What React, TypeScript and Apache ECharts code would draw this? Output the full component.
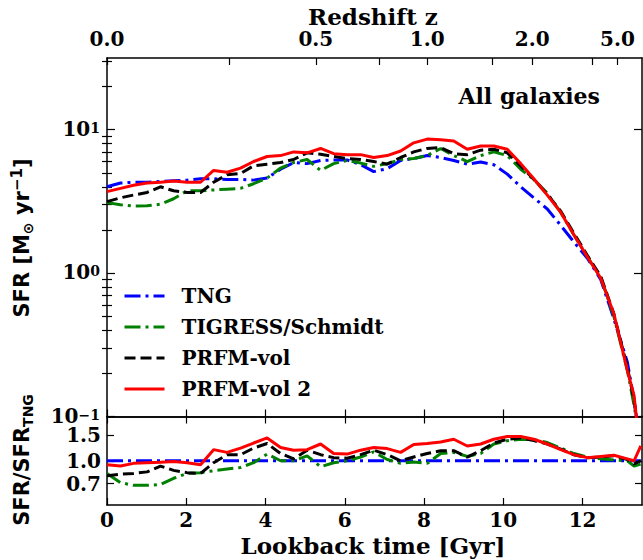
import React, { useEffect, useRef } from 'react';
import * as echarts from 'echarts';

// ---------- data ----------
const lookbackGyr = [0.00, 0.34, 0.67, 1.01, 1.35, 1.68, 2.02, 2.36, 2.69, 3.03, 3.37, 3.70, 4.04, 4.38, 4.71, 5.05, 5.39, 5.72, 6.06, 6.40, 6.73, 7.07, 7.41, 7.74, 8.08, 8.42, 8.75, 9.09, 9.43, 9.76, 10.10, 10.44, 10.77, 11.11, 11.45, 11.78, 12.12, 12.46, 12.79, 13.13, 13.30, 13.47];

const sfrTNG = [4.0, 4.25, 4.3, 4.3, 4.35, 4.4, 4.45, 4.55, 4.55, 4.5, 4.5, 4.45, 4.6, 5.3, 5.9, 5.8, 6.1, 6.15, 6.15, 5.7, 5.1, 5.35, 6.1, 6.3, 6.6, 6.4, 6.1, 5.75, 5.95, 5.7, 4.9, 4.0, 3.35, 2.8, 2.15, 1.65, 1.27, 0.9, 0.48, 0.24, 0.13, 0.06];
const sfrTIGRESS = [3.1, 3.0, 2.93, 2.95, 3.02, 3.3, 3.75, 3.75, 3.8, 3.85, 3.9, 4.2, 4.6, 5.4, 5.9, 6.2, 5.2, 5.8, 6.1, 5.85, 5.55, 5.8, 6.2, 6.3, 6.6, 7.4, 6.6, 6.0, 6.6, 7.0, 6.6, 5.3, 4.5, 3.6, 2.65, 1.85, 1.3, 0.93, 0.5, 0.21, 0.12, 0.06];
const sfrPRFMvol = [3.15, 3.35, 3.5, 3.65, 4.0, 3.75, 3.65, 3.65, 4.3, 4.85, 4.95, 5.6, 5.75, 5.9, 6.2, 6.9, 6.75, 6.5, 6.3, 6.2, 6.0, 5.75, 6.4, 7.0, 7.4, 7.5, 6.8, 6.7, 7.2, 7.3, 6.9, 5.6, 4.5, 3.55, 2.7, 1.9, 1.33, 0.95, 0.52, 0.22, 0.13, 0.06];
const sfrPRFMvol2 = [3.7, 3.9, 4.1, 4.25, 4.3, 4.38, 4.3, 4.3, 5.2, 5.05, 5.4, 6.0, 6.5, 6.6, 7.0, 6.9, 7.4, 6.8, 6.7, 6.7, 6.4, 6.6, 7.1, 8.1, 8.6, 8.5, 8.35, 7.3, 7.7, 7.7, 7.3, 5.8, 4.55, 3.5, 2.65, 1.85, 1.3, 0.92, 0.52, 0.21, 0.14, 0.05];

const ratioTNG = [1, 1, 1, 1, 1, 1, 1, 1, 1, 1, 1, 1, 1, 1, 1, 1, 1, 1, 1, 1, 1, 1, 1, 1, 1, 1, 1, 1, 1, 1, 1, 1, 1, 1, 1, 1, 1, 1, 1, 1, 1, 1];
const ratioTIGRESS = [0.82, 0.71, 0.68, 0.68, 0.69, 0.76, 0.82, 0.83, 0.855, 0.88, 0.90, 0.97, 1.11, 1.0, 1.0, 1.08, 0.91, 0.97, 1.0, 1.06, 1.15, 1.02, 0.96, 0.98, 0.96, 1.12, 1.14, 1.07, 1.12, 1.30, 1.37, 1.40, 1.39, 1.33, 1.22, 1.12, 1.06, 1.03, 1.01, 1.0, 0.92, 0.95];
const ratioPRFMvol = [0.79, 0.81, 0.82, 0.84, 0.92, 0.86, 0.83, 0.82, 0.97, 1.10, 1.10, 1.22, 1.31, 1.12, 1.03, 1.18, 1.10, 1.05, 1.04, 1.10, 1.18, 1.10, 1.00, 1.06, 1.12, 1.17, 1.17, 1.06, 1.17, 1.32, 1.40, 1.43, 1.37, 1.30, 1.20, 1.10, 1.05, 1.06, 1.08, 1.02, 0.95, 1.0];
const ratioPRFMvol2 = [0.94, 0.92, 0.96, 0.97, 0.975, 0.99, 0.97, 0.94, 1.19, 1.14, 1.22, 1.32, 1.43, 1.23, 1.18, 1.19, 1.30, 1.12, 1.11, 1.18, 1.23, 1.21, 1.14, 1.29, 1.31, 1.34, 1.40, 1.26, 1.30, 1.40, 1.46, 1.46, 1.40, 1.30, 1.19, 1.10, 1.05, 1.07, 1.09, 1.03, 1.0, 1.26];

const seriesNames = ['TNG', 'TIGRESS/Schmidt', 'PRFM-vol', 'PRFM-vol 2'];

const xTickValues = [0, 2, 4, 6, 8, 10, 12];
const zTickLabels = ['0.0', '0.5', '1.0', '2.0', '5.0'];
const zTickPos = [0, 5.27, 8.08, 10.73, 12.88];
const zMinorPos = [3.08, 6.87, 9.71, 12.24];
const sfrMajorExp = [-1, 0, 1];
const sfrMinorMult = [2, 3, 4, 5, 6, 7, 8, 9];
const ratioTicks = [0.7, 1.0, 1.5];

// ---------- styles ----------
const SERIF = '"DejaVu Serif", serif';
const SANS = '"DejaVu Sans", sans-serif';
const colors = ['#0000ff', '#008000', '#000000', '#ff0000'];
const dashes: any[] = [[16, 5, 3, 5], [16, 5, 3, 5], [11, 5], 'solid'];

const X_MAX = 13.5;
const SFR_MIN = -1, SFR_MAX = 1.5;
const R_MIN = Math.log10(0.5), R_MAX = Math.log10(2);

function pairs(vals: number[]) {
  return lookbackGyr.map((t, i) => [t, Math.log10(vals[i])]);
}

export default function App() {
  const ref = useRef<HTMLDivElement>(null);
  useEffect(() => {
    if (!ref.current) return;
    const chart = echarts.init(ref.current, undefined, { renderer: 'svg' });

    const minorLog: number[] = [];
    sfrMajorExp.forEach((e) => sfrMinorMult.forEach((k) => {
      const v = Math.log10(k) + e;
      if (v < SFR_MAX) minorLog.push(v);
    }));
    const ratioLog = ratioTicks.map((r) => Math.log10(r));

    const spine = { show: true, onZero: false, lineStyle: { color: '#000', width: 1.5 } };
    const tickLine = { color: '#000', width: 1.2 };
    const tickFont = { fontFamily: SERIF, fontWeight: 'bold' as const, fontSize: 20, color: '#000' };

    const mainData = [sfrTNG, sfrTIGRESS, sfrPRFMvol, sfrPRFMvol2];
    const ratioData = [ratioTNG, ratioTIGRESS, ratioPRFMvol, ratioPRFMvol2];

    const series: any[] = [];
    mainData.forEach((d, i) => series.push({
      name: seriesNames[i], type: 'line', xAxisIndex: 0, yAxisIndex: 0,
      data: pairs(d), symbol: 'none', clip: true, z: 2 + i,
      lineStyle: { color: colors[i], width: 3, type: dashes[i] }, itemStyle: { color: colors[i] },
    }));
    ratioData.forEach((d, i) => series.push({
      name: seriesNames[i], type: 'line', xAxisIndex: 2, yAxisIndex: 4,
      data: pairs(d), symbol: 'none', clip: true, z: 2 + i,
      lineStyle: { color: colors[i], width: 3, type: dashes[i] }, itemStyle: { color: colors[i] },
    }));

    const option: any = {
      animation: false,
      backgroundColor: '#fff',
      grid: [
        { left: 107, width: 535, top: 58, height: 358.5 },
        { left: 107, width: 535, top: 416.5, height: 88.5 },
      ],
      xAxis: [
        { gridIndex: 0, type: 'value', position: 'bottom', min: 0, max: X_MAX, axisLine: spine,
          axisTick: { inside: true, length: 7, lineStyle: tickLine, customValues: xTickValues },
          axisLabel: { show: false }, splitLine: { show: false } },
        { gridIndex: 0, type: 'value', position: 'top', min: 0, max: X_MAX, axisLine: spine,
          axisTick: { inside: true, length: 7, lineStyle: tickLine, customValues: [...zTickPos, ...zMinorPos] },
          axisLabel: { ...tickFont, lineHeight: 18, margin: 10, customValues: zTickPos,
            formatter: (v: number) => { const i = zTickPos.findIndex((p) => Math.abs(p - v) < 1e-6); return i >= 0 ? zTickLabels[i] : ''; } },
          splitLine: { show: false } },
        { gridIndex: 1, type: 'value', position: 'bottom', min: 0, max: X_MAX, axisLine: spine,
          axisTick: { inside: true, length: 7, lineStyle: tickLine, customValues: xTickValues },
          axisLabel: { ...tickFont, margin: 5, customValues: xTickValues, formatter: (v: number) => String(Math.round(v)) },
          splitLine: { show: false } },
        { gridIndex: 1, type: 'value', position: 'top', min: 0, max: X_MAX, axisLine: spine,
          axisTick: { inside: true, length: 7, lineStyle: tickLine, customValues: xTickValues },
          axisLabel: { show: false }, splitLine: { show: false } },
      ],
      yAxis: [
        { gridIndex: 0, type: 'value', position: 'left', min: SFR_MIN, max: SFR_MAX, axisLine: spine,
          axisTick: { inside: true, length: 8, lineStyle: tickLine, customValues: sfrMajorExp },
          axisLabel: { margin: 7, customValues: sfrMajorExp,
            formatter: (v: number) => { const e = Math.round(v); return `{b|10}{s|${e < 0 ? '\u2212' + (-e) : e}}`; },
            rich: {
              b: { fontFamily: SERIF, fontWeight: 'bold', fontSize: 20, color: '#000', lineHeight: 18, verticalAlign: 'bottom' },
              s: { fontFamily: SERIF, fontWeight: 'bold', fontSize: 14, color: '#000', lineHeight: 12, verticalAlign: 'top' },
            } },
          splitLine: { show: false } },
        { gridIndex: 0, type: 'value', position: 'left', min: SFR_MIN, max: SFR_MAX, axisLine: { show: false },
          axisTick: { inside: true, length: 5, lineStyle: tickLine, customValues: minorLog },
          axisLabel: { show: false }, splitLine: { show: false } },
        { gridIndex: 0, type: 'value', position: 'right', min: SFR_MIN, max: SFR_MAX, axisLine: spine,
          axisTick: { inside: true, length: 8, lineStyle: tickLine, customValues: sfrMajorExp },
          axisLabel: { show: false }, splitLine: { show: false } },
        { gridIndex: 0, type: 'value', position: 'right', min: SFR_MIN, max: SFR_MAX, axisLine: { show: false },
          axisTick: { inside: true, length: 5, lineStyle: tickLine, customValues: minorLog },
          axisLabel: { show: false }, splitLine: { show: false } },
        { gridIndex: 1, type: 'value', position: 'left', min: R_MIN, max: R_MAX, axisLine: spine,
          axisTick: { inside: true, length: 7, lineStyle: tickLine, customValues: ratioLog },
          axisLabel: { ...tickFont, lineHeight: 16, margin: 6, customValues: ratioLog, formatter: (v: number) => Math.pow(10, v).toFixed(1) },
          splitLine: { show: false } },
        { gridIndex: 1, type: 'value', position: 'right', min: R_MIN, max: R_MAX, axisLine: spine,
          axisTick: { inside: true, length: 7, lineStyle: tickLine, customValues: ratioLog },
          axisLabel: { show: false }, splitLine: { show: false } },
      ],
      legend: {
        data: seriesNames, orient: 'vertical', left: 118, top: 281, itemWidth: 40, itemHeight: 14, itemGap: 11,
        selectedMode: false,
        itemStyle: { color: 'rgba(0,0,0,0)', borderWidth: 0, opacity: 0 },
        lineStyle: { width: 3 },
        textStyle: { fontFamily: SERIF, fontWeight: 'bold', fontSize: 20, color: '#000', padding: [0, 0, 0, 12] },
      },
      graphic: [
        { type: 'text', x: 373, y: 16, style: { text: 'Redshift z', align: 'center', verticalAlign: 'middle', lineHeight: 20, fontFamily: SERIF, fontWeight: 'bold', fontSize: 23, fill: '#000' } },
        { type: 'text', x: 600, y: 96, style: { text: 'All galaxies', align: 'right', verticalAlign: 'middle', fontFamily: SERIF, fontWeight: 'bold', fontSize: 22, fill: '#000' } },
        { type: 'text', x: 373, y: 545, style: { text: 'Lookback time [Gyr]', align: 'center', verticalAlign: 'middle', fontFamily: SERIF, fontWeight: 'bold', fontSize: 23, fill: '#000' } },
        { type: 'text', x: 22, y: 238, rotation: Math.PI / 2,
          style: { text: '{a|SFR [M}{b|\u2299}{a| yr}{c|\u22121}{a|]}', align: 'center', verticalAlign: 'middle',
            rich: {
              a: { fontFamily: SANS, fontWeight: 'bold', fontSize: 21, fill: '#000', lineHeight: 26, verticalAlign: 'middle' },
              b: { fontFamily: SANS, fontWeight: 'bold', fontSize: 14, fill: '#000', lineHeight: 14, verticalAlign: 'bottom' },
              c: { fontFamily: SANS, fontWeight: 'bold', fontSize: 15, fill: '#000', lineHeight: 15, verticalAlign: 'top' },
            } } },
        { type: 'text', x: 22, y: 460, rotation: Math.PI / 2,
          style: { text: '{a|SFR/SFR}{b|TNG}', align: 'center', verticalAlign: 'middle',
            rich: {
              a: { fontFamily: SANS, fontWeight: 'bold', fontSize: 21, fill: '#000', lineHeight: 26, verticalAlign: 'middle' },
              b: { fontFamily: SANS, fontWeight: 'bold', fontSize: 14, fill: '#000', lineHeight: 14, verticalAlign: 'bottom' },
            } } },
      ],
      series,
    };
    chart.setOption(option);
    return () => chart.dispose();
  }, []);
  return <div ref={ref} style={{ position: 'absolute', left: 0, top: 0, width: 643, height: 560 }} />;
}
